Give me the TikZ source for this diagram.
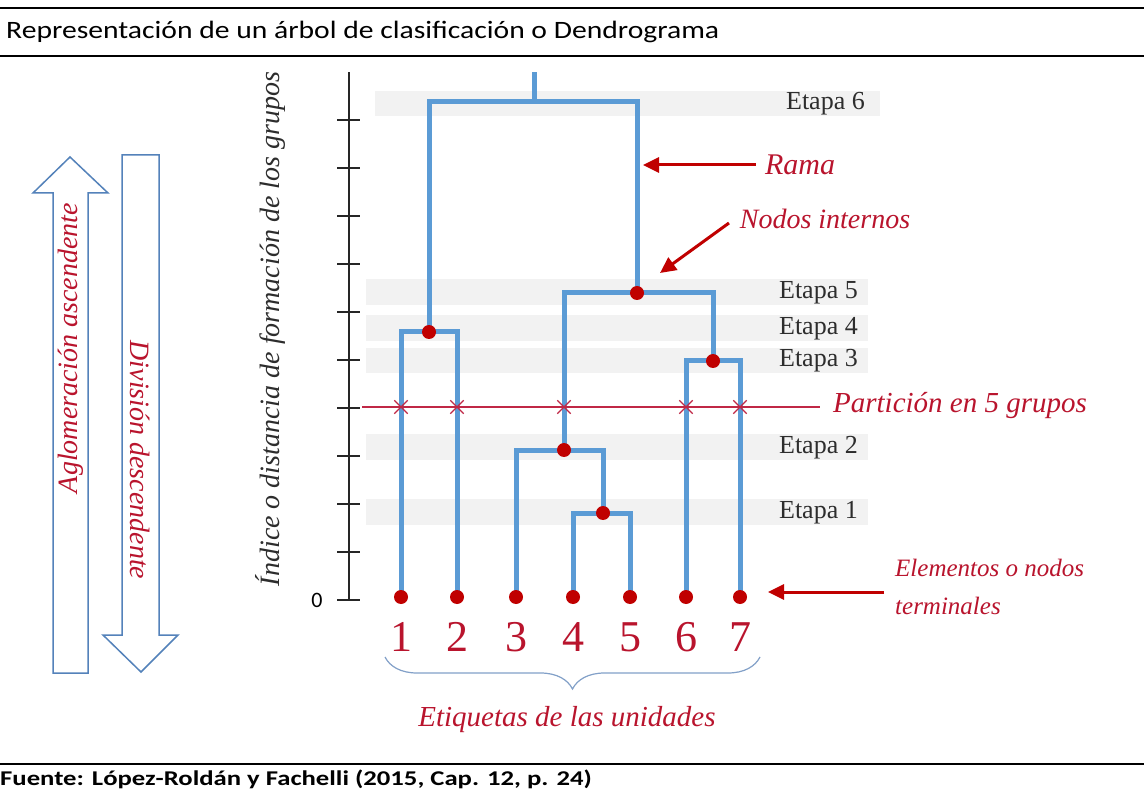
\documentclass[tikz,border=0pt]{standalone}
\usepackage{graphicx}
\usepackage{fontspec}
\setmainfont{Liberation Serif}
\newfontfamily\carlito{Carlito}
\usetikzlibrary{arrows.meta,decorations.pathreplacing,shapes.misc}
\definecolor{branchblue}{RGB}{91,155,213}
\definecolor{dotred}{RGB}{192,0,0}
\definecolor{txtred}{RGB}{185,20,45}
\definecolor{bandgrey}{RGB}{242,242,242}
\definecolor{arrowblue}{RGB}{84,130,186}
\definecolor{bracecol}{RGB}{130,160,200}
\definecolor{partred}{RGB}{192,40,70}
\definecolor{etapagrey}{RGB}{45,45,45}
\tikzset{
 branch/.style={draw=branchblue, line width=5pt},
 dot/.style={circle, fill=dotred, inner sep=0pt, minimum size=14pt},
 band/.style={fill=bandgrey},
 etapa/.style={anchor=east, font=\fontsize{26}{28}\selectfont, text=etapagrey, inner sep=0pt},
 redlbl/.style={text=txtred, font=\fontsize{28}{30}\selectfont\itshape, inner sep=0pt},
 redarrow/.style={draw=dotred, line width=3pt, -{Triangle[length=16pt,width=15pt]}},
 bigarrow/.style={draw=arrowblue, line width=1.5pt, fill=white, line join=miter},
 partline/.style={draw=partred, line width=1.3pt},
 xmark/.style={cross out, draw=partred, line width=1.3pt, minimum size=12pt, inner sep=0pt},
 axisline/.style={draw=black!85, line width=1.3pt},
 rulethick/.style={draw=black, line width=2.5pt},
 rulethin/.style={draw=black, line width=1.8pt},
 numlbl/.style={text=txtred, font=\fontsize{44}{48}\selectfont, inner sep=0pt},
}
\begin{document}
\begin{tikzpicture}[x=1pt,y=-1pt]
\useasboundingbox (0,0) rectangle (1144,794);
\fill[white] (0,0) rectangle (1144,794);

% rules
\coordinate (r1a) at (0,8);   \coordinate (r1b) at (1144,8);
\coordinate (r2a) at (0,56);  \coordinate (r2b) at (1144,56);
\coordinate (r3a) at (0,764); \coordinate (r3b) at (1144,764);
\draw[rulethick] (r1a) -- (r1b);
\draw[rulethin] (r2a) -- (r2b);
\draw[rulethin] (r3a) -- (r3b);

\node[anchor=west, font=\carlito\fontsize{25}{27}\selectfont, inner sep=0pt] (title) at (6,32)
  {\scalebox{1.185}[1]{Representación de un árbol de clasificación o Dendrograma}};
\node[anchor=west, font=\carlito\bfseries\fontsize{21}{23}\selectfont, inner sep=0pt] (src) at (0,779)
  {\scalebox{1.27}[1]{Fuente: López-Roldán y Fachelli (2015, Cap. 12, p. 24)}};

% grey bands
\fill[band] (375,91) rectangle (880,116);
\fill[band] (366,279) rectangle (868,305);
\fill[band] (366,315) rectangle (868,341);
\fill[band] (366,348) rectangle (868,373);
\fill[band] (366,434) rectangle (868,460);
\fill[band] (366,499) rectangle (868,525);

\node[etapa] (e6) at (865,104) {Etapa 6};
\node[etapa] (e5) at (858,293) {Etapa 5};
\node[etapa] (e4) at (858,329) {Etapa 4};
\node[etapa] (e3) at (858,361) {Etapa 3};
\node[etapa] (e2) at (858,448) {Etapa 2};
\node[etapa] (e1) at (858,513) {Etapa 1};

% axis
\coordinate (a0) at (349,600);
\coordinate (atop) at (349,72);
\draw[axisline] (a0) -- (atop);
\foreach \k in {0,...,10} {
  \draw[axisline] (337,{600-48*\k}) -- (360,{600-48*\k});
}
\node[font=\carlito\fontsize{22}{24}\selectfont, inner sep=0pt] (zero) at (317,600) {0};
\node[rotate=90, font=\fontsize{28}{30}\selectfont\itshape, text=etapagrey, inner sep=0pt] (axlbl) at (270,329)
  {Índice o distancia de formación de los grupos};

% dendrogram
\coordinate (L1) at (401,597);
\coordinate (L2) at (457,597);
\coordinate (L3) at (516,597);
\coordinate (L4) at (573,597);
\coordinate (L5) at (630,597);
\coordinate (L6) at (686,597);
\coordinate (L7) at (740,597);
\coordinate (m1) at (603,513);
\coordinate (m2) at (564,450);
\coordinate (m3) at (713,361);
\coordinate (m4) at (429,332);
\coordinate (m5) at (637,293);
\coordinate (m6) at (534,102);
\coordinate (root) at (534,72);

\draw[branch] (L4) |- (m1) -| (L5);
\draw[branch] (L3) |- (m2) -| (m1);
\draw[branch] (L6) |- (m3) -| (L7);
\draw[branch] (L1) |- (m4) -| (L2);
\draw[branch] (m2) |- (m5) -| (m3);
\draw[branch] (m4) |- (m6) -| (m5);
\draw[branch] (m6) -- (root);

% partition
\coordinate (pL) at (362,407);
\coordinate (pR) at (820,407);
\draw[partline] (pL) -- (pR);
\foreach \xx/\nm in {401/x1,457/x2,564/x3,686/x4,740/x5} {
  \node[xmark] (\nm) at (\xx,407) {};
}
\node[redlbl, font=\fontsize{29}{31}\selectfont\itshape] (part) at (960,406) {Partición en 5 grupos};

% dots
\foreach \c in {L1,L2,L3,L4,L5,L6,L7,m1,m2,m3,m4,m5} {
  \node[dot] (d\c) at (\c) {};
}

% numbers
\foreach \i/\xx in {1/401,2/457,3/516,4/573,5/630,6/686,7/740} {
  \node[numlbl] (n\i) at (\xx,637) {\i};
}

% brace
\coordinate (brR) at (760,657);
\coordinate (brL) at (385,657);
\draw[bracecol, line width=1.2pt, decorate, decoration={brace, amplitude=32pt}] (brR) -- (brL);
\node[redlbl, font=\fontsize{29}{31}\selectfont\itshape] (etiq) at (567,720) {Etiquetas de las unidades};

% annotations
\node[redlbl, font=\fontsize{30}{32}\selectfont\itshape] (rama) at (800,165) {Rama};
\coordinate (ramatip) at (643,165);
\draw[redarrow] ([xshift=-9pt]rama.west) -- (ramatip);

\node[redlbl] (nodint) at (825,219) {Nodos internos};
\coordinate (niS) at (729,223);
\coordinate (niT) at (660,273);
\draw[redarrow] (niS) -- (niT);

\node[redlbl, font=\fontsize{25}{38}\selectfont\itshape, anchor=west, align=left] (elem) at (895,587)
  {Elementos o nodos\\terminales};
\coordinate (elT) at (768,592);
\draw[redarrow] ([xshift=-11pt]elem.west |- elT) -- (elT);

% left arrows
\draw[bigarrow] (53,673) -- (53,193) -- (33,193) -- (70,157) -- (108,193) -- (88,193) -- (88,673) -- cycle;
\draw[bigarrow] (122,155) -- (159,155) -- (159,635) -- (178,635) -- (141,672) -- (103,635) -- (122,635) -- cycle;
\node[redlbl, rotate=90] (aglo) at (71,348) {Aglomeración ascendente};
\node[redlbl, rotate=-90] (divi) at (140,460) {División descendente};
\end{tikzpicture}
\end{document}
